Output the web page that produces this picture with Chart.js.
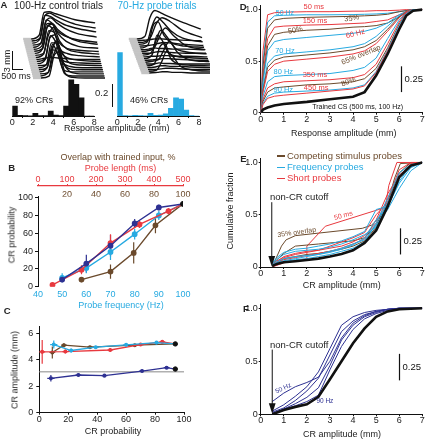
<!DOCTYPE html>
<html>
<head>
<meta charset="utf-8">
<script src="https://cdn.jsdelivr.net/npm/chart.js@4.4.1/dist/chart.umd.min.js"></script>
<style>
html, body { margin: 0; padding: 0; background: #fff; }
#fig { position: relative; width: 426px; height: 440px; overflow: hidden; font-family: "Liberation Sans", Arial, sans-serif; color: #222; }
.t { position: absolute; white-space: nowrap; line-height: 1; }
.ln { position: absolute; }
</style>
</head>
<body>
<div id="fig"></div>
<script>
const CYAN = '#27aae1', RED = '#e8393f', BROWN = '#6b4a2c', NAVY = '#2e3192', BLACK = '#111', GRAY = '#b0b0b0';
const FONT = '"Liberation Sans", Arial, sans-serif';

// ---- A: eyelid traces (mm) at fixed times (ms), one row per trial, bottom trial first
const traceT = [0, 400, 800, 1050, 1300, 1600, 2000, 2600, 3600];
const ctrlTraces = [
  [0, 0, 0.3, 3.6, 4.2, 0.8, 0.1, 0, 0],
  [0, 0, 0.6, 4.2, 3.4, 0.4, 0, 0, 0],
  [0, 0, 0.2, 2.8, 4.4, 1.6, 0.2, 0, 0],
  [0, 0, 0.8, 4.4, 3.0, 0.3, 0, 0, 0],
  [0, 0, 0.3, 3.4, 4.5, 1.2, 0.1, 0, 0],
  [0, 0, 0.5, 4.0, 4.0, 0.9, 0.2, 0, 0],
  [0, 0, 0.1, 1.8, 4.0, 2.2, 0.4, 0.1, 0],
  [0, 0, 0.7, 4.5, 3.6, 0.7, 0.2, 0.1, 0],
  [0, 0, 0.4, 3.8, 4.3, 1.5, 0.5, 0.2, 0],
  [0, 0, 0.2, 0.3, 0.3, 0.2, 0.1, 0, 0],
  [0, 0, 0.6, 4.3, 4.1, 1.4, 0.6, 0.3, 0.1],
  [0, 0, 0.3, 3.2, 4.5, 2.4, 1.0, 0.5, 0.2],
  [0, 0, 0.8, 4.5, 3.9, 1.8, 0.8, 0.5, 0.3],
  [0, 0, 0.4, 3.9, 4.4, 2.8, 1.6, 0.8, 0.5],
  [0, 0, 0.5, 4.1, 4.2, 3.2, 2.2, 1.3, 0.8],
  [0, 0, 0.7, 4.4, 4.0, 2.6, 1.8, 1.2, 0.8],
  [0, 0, 0.3, 3.7, 4.4, 3.6, 2.7, 1.9, 1.3],
  [0, 0, 0.7, 4.5, 4.3, 3.7, 3.0, 2.4, 1.8],
  [0, 0, 0.4, 4.0, 4.5, 4.0, 3.4, 2.7, 2.1],
  [0, 0, 0.6, 4.3, 4.4, 4.1, 3.7, 3.1, 2.6]
];
const probeTraces = [
  [0, 0, 0.1, 0.2, 0.2, 0.1, 0.1, 0, 0],
  [0, 0, 0.2, 1.5, 3.2, 2.4, 0.8, 0.2, 0],
  [0, 0, 0, 0.1, 0.2, 0.2, 0.1, 0, 0],
  [0, 0, 0.1, 0.3, 0.3, 0.2, 0.2, 0.1, 0],
  [0, 0, 0.4, 3.0, 3.6, 1.2, 0.3, 0.1, 0],
  [0, 0, 0, 0.2, 0.1, 0.1, 0, 0, 0],
  [0, 0, 0.2, 0.4, 1.8, 3.4, 1.6, 0.4, 0.1],
  [0, 0, 0.1, 0.2, 0.3, 0.3, 0.2, 0.1, 0],
  [0, 0, 0.6, 3.8, 3.0, 1.0, 0.4, 0.2, 0],
  [0, 0, 0.1, 0.1, 0.2, 0.2, 0.1, 0.1, 0],
  [0, 0, 0.3, 2.2, 4.0, 3.0, 1.2, 0.5, 0.2],
  [0, 0, 0, 0.2, 0.3, 0.2, 0.1, 0, 0],
  [0, 0, 0.2, 0.6, 2.4, 3.8, 2.6, 1.0, 0.3],
  [0, 0, 0.1, 0.3, 0.2, 0.2, 0.1, 0.1, 0],
  [0, 0, 0.5, 3.6, 4.2, 2.0, 0.8, 0.3, 0.1],
  [0, 0, 0.1, 0.2, 0.4, 0.6, 0.5, 0.3, 0.1],
  [0, 0, 0.3, 2.8, 4.4, 3.6, 2.2, 1.0, 0.4],
  [0, 0, 0.2, 1.0, 3.0, 4.0, 3.4, 2.0, 0.8],
  [0, 0, 0.1, 0.2, 0.3, 0.3, 0.2, 0.1, 0],
  [0, 0, 0.4, 3.4, 4.6, 4.2, 3.6, 2.8, 1.6]
];

// ---- A: response amplitude histograms (fraction of trials, 0.5 mm bins)
const binMid = [0.25, 0.75, 1.25, 1.75, 2.25, 2.75, 3.25, 3.75, 4.25, 4.75, 5.25, 5.75, 6.25, 6.75, 7.25, 7.75];
const ctrlHist = [0.088, 0.006, 0.004, 0.002, 0.024, 0.004, 0.003, 0.044, 0.008, 0.004, 0.088, 0.32, 0.28, 0.16, 0, 0];
const probeHist = [0.56, 0.004, 0.002, 0.006, 0.004, 0.002, 0.024, 0.006, 0.008, 0.02, 0.068, 0.16, 0.15, 0.053, 0.004, 0];

// ---- B: CR probability (%) vs probe parameter
const bFreq = [50, 60, 70, 80, 90];
const bFreqCR = [10, 21, 39, 59, 80];
const bFreqErr = [5, 6, 9, 6, 5];
const bNavyCR = [8, 26, 46, 71, 89];
const bNavyErr = [3, 10, 12, 5, 3];
const bLen = [50, 150, 250, 350, 450];
const bLenCR = [2, 19, 49, 70, 85];
const bLenErr = [1, 5, 10, 4, 3];
const bOv = [30, 50, 66, 81];
const bOvCR = [8, 17, 38, 69];
const bOvErr = [3, 8, 12, 9];
const trainedFreq = 100, trainedLen = 500, trainedOv = 100, trainedCR = 93;

// ---- C: CR amplitude (mm) vs CR probability (%)
const cNavyP = [8, 27, 45, 71, 88], cNavyAmp = [2.6, 2.85, 2.8, 3.15, 3.4];
const cNavyErr = [0.25, 0.08, 0.08, 0.06, 0.06], cNavyPErr = [2.5, 2, 2, 2, 2];
const cCyanP = [10, 22, 39, 60, 81], cCyanAmp = [5.15, 4.7, 4.95, 5.13, 5.3];
const cCyanErr = [0.3, 0.15, 0.1, 0.08, 0.08], cCyanPErr = [2.5, 2, 2, 2, 2];
const cRedP = [2, 18, 49, 70, 85], cRedAmp = [4.6, 4.62, 4.74, 5.15, 5.35];
const cRedErr = [0.9, 0.15, 0.12, 0.08, 0.08], cRedPErr = [2, 2, 2, 2, 2];
const cBrownP = [9, 17, 35, 66], cBrownAmp = [4.55, 5.1, 4.95, 5.1];
const cBrownErr = [0.45, 0.15, 0.1, 0.08], cBrownPErr = [2, 2, 2, 2];
const trainedP = 94, trainedAmp = 5.2, trainedNavyAmp = 3.3;
const cRefP = [0, 100], cRefAmp = [3.1, 3.1];

// ---- D: cumulative fraction vs response amplitude (mm)
const dX = [0, 0.1, 0.3, 0.6, 1, 2, 3, 4, 4.5, 5, 5.5, 6, 6.3, 6.6, 7];
const dTrained = [0, 0.03, 0.05, 0.07, 0.085, 0.105, 0.13, 0.155, 0.2, 0.36, 0.57, 0.81, 0.94, 0.99, 1];
const dLen450 = [0, 0.08, 0.14, 0.16, 0.17, 0.19, 0.21, 0.23, 0.26, 0.39, 0.6, 0.83, 0.95, 0.99, 1];
const dHz90 = [0, 0.09, 0.16, 0.19, 0.2, 0.21, 0.22, 0.24, 0.27, 0.4, 0.61, 0.85, 0.96, 1, 1];
const dOv80 = [0, 0.11, 0.2, 0.24, 0.25, 0.27, 0.28, 0.3, 0.33, 0.43, 0.63, 0.86, 0.96, 1, 1];
const dLen350 = [0, 0.13, 0.24, 0.28, 0.3, 0.31, 0.32, 0.34, 0.37, 0.47, 0.67, 0.88, 0.97, 1, 1];
const dHz80 = [0, 0.16, 0.3, 0.35, 0.36, 0.37, 0.38, 0.41, 0.44, 0.53, 0.72, 0.9, 0.97, 1, 1];
const dLen250 = [0, 0.2, 0.4, 0.47, 0.5, 0.52, 0.54, 0.57, 0.6, 0.67, 0.79, 0.92, 0.98, 1, 1];
const dOv65 = [0, 0.22, 0.44, 0.51, 0.54, 0.56, 0.58, 0.61, 0.64, 0.7, 0.81, 0.93, 0.98, 1, 1];
const dHz70 = [0, 0.25, 0.48, 0.55, 0.57, 0.59, 0.61, 0.64, 0.67, 0.74, 0.84, 0.94, 0.98, 1, 1];
const dHz60 = [0, 0.3, 0.6, 0.69, 0.71, 0.73, 0.75, 0.77, 0.79, 0.82, 0.87, 0.95, 0.98, 1, 1];
const dOv50 = [0, 0.33, 0.65, 0.76, 0.78, 0.8, 0.81, 0.83, 0.835, 0.845, 0.87, 0.93, 0.97, 1, 1];
const dLen150 = [0, 0.38, 0.72, 0.83, 0.84, 0.85, 0.855, 0.865, 0.87, 0.885, 0.9, 0.95, 0.98, 1, 1];
const dOv35 = [0, 0.45, 0.82, 0.9, 0.915, 0.925, 0.93, 0.935, 0.94, 0.945, 0.955, 0.98, 0.99, 1, 1];
const dHz50 = [0, 0.5, 0.88, 0.94, 0.945, 0.95, 0.95, 0.952, 0.955, 0.958, 0.965, 0.98, 0.99, 1, 1];
const dLen50 = [0, 0.6, 0.95, 0.97, 0.975, 0.98, 0.98, 0.985, 0.985, 0.99, 0.99, 0.995, 1, 1, 1];

// ---- E: cumulative fraction vs CR amplitude (mm), CRs only
const eX = [0.5, 0.7, 1, 1.5, 2, 2.5, 3, 3.5, 4, 4.5, 5, 5.5, 6, 6.5, 7];
const eTrained = [0.01, 0.03, 0.045, 0.055, 0.067, 0.08, 0.1, 0.125, 0.16, 0.23, 0.35, 0.58, 0.86, 0.97, 1];
const eFreq = [
  [0.02, 0.05, 0.08, 0.1, 0.11, 0.12, 0.14, 0.17, 0.21, 0.28, 0.45, 0.58, 0.8, 0.95, 1],
  [0.03, 0.07, 0.12, 0.15, 0.16, 0.17, 0.19, 0.22, 0.26, 0.31, 0.38, 0.62, 0.85, 0.96, 1],
  [0.02, 0.04, 0.06, 0.08, 0.1, 0.12, 0.15, 0.18, 0.22, 0.26, 0.4, 0.55, 0.75, 0.92, 1],
  [0.04, 0.09, 0.14, 0.17, 0.18, 0.2, 0.22, 0.25, 0.29, 0.34, 0.55, 0.58, 0.82, 0.97, 1],
  [0.01, 0.03, 0.05, 0.07, 0.08, 0.1, 0.12, 0.15, 0.18, 0.24, 0.42, 0.66, 0.9, 0.98, 1]
];
const eLen = [
  [0.02, 0.05, 0.1, 0.13, 0.15, 0.16, 0.18, 0.2, 0.24, 0.3, 0.42, 0.65, 0.93, 1, 1],
  [0.01, 0.04, 0.07, 0.09, 0.11, 0.13, 0.15, 0.18, 0.22, 0.27, 0.45, 0.7, 0.88, 0.97, 1],
  [0.03, 0.06, 0.09, 0.12, 0.14, 0.16, 0.2, 0.24, 0.28, 0.33, 0.5, 0.62, 0.86, 0.99, 1]
];
const eOv = [
  [0.02, 0.07, 0.13, 0.2, 0.21, 0.22, 0.23, 0.24, 0.25, 0.28, 0.4, 0.62, 0.9, 1, 1],
  [0.01, 0.04, 0.08, 0.1, 0.12, 0.13, 0.15, 0.17, 0.2, 0.25, 0.38, 0.6, 0.86, 0.98, 1]
];
const eLen50X = [0.5, 1, 2, 2, 2.8, 5.4, 5.55, 5.9, 7];
const eLen50Y = [0, 0.04, 0.08, 0.2, 0.39, 0.57, 0.78, 1, 1];
const eOv35X = [0.5, 0.6, 0.9, 1.1, 1.5, 4.4, 4.8, 5.4, 5.8, 6.05, 7];
const eOv35Y = [0, 0.05, 0.2, 0.26, 0.3, 0.37, 0.4, 0.53, 0.85, 0.99, 1];

// ---- F: cumulative fraction vs CR amplitude (mm), frequency probes of second group
const fX = [0.5, 1, 1.5, 2, 2.5, 3, 3.5, 4, 4.5, 5, 5.5, 6, 7];
const fTrained = [0, 0.04, 0.07, 0.095, 0.165, 0.33, 0.5, 0.67, 0.81, 0.92, 0.97, 0.99, 1];
const fHz = [
  [0.12, 0.2, 0.26, 0.3, 0.35, 0.5, 0.72, 0.86, 0.93, 0.97, 0.99, 1, 1],
  [0.03, 0.09, 0.17, 0.26, 0.4, 0.62, 0.84, 0.92, 0.96, 0.98, 0.99, 1, 1],
  [0.02, 0.06, 0.13, 0.22, 0.34, 0.56, 0.78, 0.88, 0.94, 0.97, 0.99, 1, 1],
  [0.01, 0.05, 0.1, 0.16, 0.25, 0.46, 0.7, 0.84, 0.92, 0.96, 0.99, 1, 1],
  [0, 0.05, 0.08, 0.12, 0.18, 0.42, 0.64, 0.8, 0.9, 0.95, 0.98, 1, 1]
];

Chart.defaults.font.family = FONT;
Chart.defaults.font.size = 9;
Chart.defaults.font.lineHeight = 1;
Chart.defaults.color = '#222';

const fig = document.getElementById('fig');

function label(s, x, y, o) {
  o = o || {};
  const d = document.createElement('div');
  d.className = 't';
  d.textContent = s;
  d.style.left = x + 'px';
  d.style.top = y + 'px';
  d.style.fontSize = (o.size || 9) + 'px';
  d.style.color = o.color || '#222';
  if (o.bold) d.style.fontWeight = 'bold';
  const tx = o.align === 'left' ? '0' : '-50%';
  d.style.transform = 'translate(' + tx + ',-50%)' + (o.rot ? ' rotate(' + o.rot + 'deg)' : '');
  fig.appendChild(d);
}

function rule(x, y, w, h, color) {
  const d = document.createElement('div');
  d.className = 'ln';
  d.style.cssText += 'left:' + x + 'px;top:' + y + 'px;width:' + w + 'px;height:' + h + 'px;background:' + color;
  fig.appendChild(d);
}

function mk(box, cfg) {
  const c = document.createElement('canvas');
  c.width = box[2];
  c.height = box[3];
  c.style.cssText = 'position:absolute;left:' + box[0] + 'px;top:' + box[1] + 'px;width:' + box[2] + 'px;height:' + box[3] + 'px';
  fig.appendChild(c);
  return new Chart(c, cfg);
}

function base(pad, scales, plugins) {
  return {
    responsive: false, animation: false, events: [],
    layout: { padding: pad },
    plugins: Object.assign({ legend: { display: false }, tooltip: { enabled: false } }, plugins || {}),
    scales: scales
  };
}

function pts(xs, ys) { return xs.map((x, i) => ({ x: x, y: ys[i] })); }

function line(xs, ys, color, w, extra) {
  return Object.assign({
    data: pts(xs, ys), borderColor: color, backgroundColor: color,
    borderWidth: w, pointRadius: 0, tension: 0, fill: false
  }, extra || {});
}

// error bars, drawn under the points
const errorBars = {
  id: 'errorBars',
  beforeDatasetsDraw(chart) {
    const ctx = chart.ctx;
    chart.data.datasets.forEach((ds, i) => {
      if (!ds.yErr && !ds.xErr) return;
      const meta = chart.getDatasetMeta(i);
      const sx = chart.scales[meta.xAxisID], sy = chart.scales[meta.yAxisID];
      ctx.save();
      ctx.strokeStyle = ds.borderColor;
      ctx.lineWidth = 1.2;
      ctx.beginPath();
      ds.data.forEach((p, j) => {
        const ey = ds.yErr ? (ds.yErr[j] || 0) : 0;
        const ex = ds.xErr ? (ds.xErr[j] || 0) : 0;
        const px = sx.getPixelForValue(p.x), py = sy.getPixelForValue(p.y);
        if (ey) { ctx.moveTo(px, sy.getPixelForValue(p.y - ey)); ctx.lineTo(px, sy.getPixelForValue(p.y + ey)); }
        if (ex) { ctx.moveTo(sx.getPixelForValue(p.x - ex), py); ctx.lineTo(sx.getPixelForValue(p.x + ex), py); }
      });
      ctx.stroke();
      ctx.restore();
    });
  }
};

// in-plot labels, scale bar and cutoff arrow
const notes = {
  id: 'notes',
  afterDatasetsDraw(chart, args, o) {
    const ctx = chart.ctx, sx = chart.scales.x, sy = chart.scales.y;
    ctx.save();
    (o.texts || []).forEach(n => {
      ctx.save();
      ctx.translate(sx.getPixelForValue(n.x), sy.getPixelForValue(n.y));
      ctx.rotate((n.rot || 0) * Math.PI / 180);
      ctx.font = (n.size || 7) + 'px ' + FONT;
      ctx.fillStyle = n.color || BLACK;
      ctx.textAlign = 'center';
      ctx.textBaseline = 'middle';
      ctx.fillText(n.text, 0, 0);
      ctx.restore();
    });
    if (o.bar) {
      const x = Math.round(sx.getPixelForValue(o.bar.x)) + 0.5;
      const y0 = sy.getPixelForValue(o.bar.y), y1 = sy.getPixelForValue(o.bar.y + o.bar.len);
      ctx.strokeStyle = BLACK;
      ctx.lineWidth = 1.2;
      ctx.beginPath(); ctx.moveTo(x, y0); ctx.lineTo(x, y1); ctx.stroke();
      ctx.font = '9.5px ' + FONT;
      ctx.fillStyle = BLACK;
      ctx.textAlign = 'left';
      ctx.textBaseline = 'middle';
      ctx.fillText(o.bar.text, x + 3, (y0 + y1) / 2);
    }
    if (o.arrow) {
      const x = sx.getPixelForValue(o.arrow.x), yt = sy.getPixelForValue(o.arrow.y), yb = sy.getPixelForValue(0);
      ctx.strokeStyle = BLACK;
      ctx.fillStyle = BLACK;
      ctx.lineWidth = 1;
      ctx.beginPath(); ctx.moveTo(x, yt); ctx.lineTo(x, yb - 9); ctx.stroke();
      ctx.beginPath(); ctx.moveTo(x - 3.4, yb - 11); ctx.lineTo(x + 3.4, yb - 11); ctx.lineTo(x, yb - 0.5); ctx.closePath(); ctx.fill();
    }
    ctx.restore();
  }
};

// ================= A =================
function traceChart(box, traces, xr, yr, dx, dy) {
  const datasets = traces.map((amp, k) => ({
    data: traceT.map((t, j) => ({ x: t + k * dx, y: amp[j] + k * dy })),
    borderColor: BLACK, borderWidth: 1.4, pointRadius: 0, cubicInterpolationMode: 'monotone',
    segment: {
      borderColor: c => c.p0DataIndex === 0 ? '#c4c4c4' : undefined,
      borderWidth: c => c.p0DataIndex === 0 ? 2.4 : undefined
    }
  }));
  mk(box, { type: 'line', data: { datasets: datasets }, options: base(0, {
    x: { type: 'linear', display: false, min: xr[0], max: xr[1] },
    y: { type: 'linear', display: false, min: yr[0], max: yr[1] }
  }) });
}
traceChart([20, 6, 90, 78], ctrlTraces, [-650, 3850], [-0.97, 11.61], -26, 0.331);
traceChart([115, 6, 95, 78], probeTraces, [-1315, 3435], [-1.77, 10.81], -33, 0.289);

function histChart(box, pad, vals, color) {
  mk(box, { type: 'bar', data: { datasets: [{
    data: pts(binMid, vals), backgroundColor: color, borderWidth: 0,
    barPercentage: 1, categoryPercentage: 1
  }] }, options: base(pad, {
    x: { type: 'linear', min: 0, max: 8, offset: false, afterFit: s => { s.height = 12; },
      ticks: { stepSize: 2, padding: 0, color: '#222' },
      grid: { drawOnChartArea: false, tickLength: 2, color: BLACK }, border: { color: BLACK } },
    y: { type: 'linear', display: false, min: 0, max: 0.6 }
  }) });
}
histChart([2, 44, 105, 88], { left: 10.3, top: 4, right: 12.7, bottom: 4 }, ctrlHist, BLACK);
histChart([107, 44, 106, 88], { left: 10.3, top: 4, right: 14, bottom: 4 }, probeHist, CYAN);

label('A', 4, 5, { bold: true, size: 9.5 });
label('100-Hz control trials', 58.5, 6, { size: 10 });
label('70-Hz probe trials', 157, 6, { size: 10, color: CYAN });
rule(12, 50.7, 1, 19, BLACK);
rule(12, 69, 11.3, 1, BLACK);
label('3 mm', 7, 60.5, { rot: -90 });
label('500 ms', 16, 76);
label('92% CRs', 34, 100);
label('46% CRs', 149, 100);
rule(112.2, 84, 1.2, 22.7, BLACK);
label('0.2', 101.7, 93.3, { size: 9.5 });
label('Response amplitude (mm)', 116.7, 127.5);

// ================= B =================
function withTrained(xs, ys, tx) { return pts(xs.concat([tx]), ys.concat([trainedCR])); }
const bPoint = n => Array(n).fill(2.2).concat([0]);
mk([0, 160, 200, 145], {
  type: 'line',
  data: { datasets: [
    { data: [{ x: trainedFreq, y: trainedCR }], borderColor: BLACK, backgroundColor: BLACK, pointRadius: 2.5, showLine: false, order: 0 },
    { data: withTrained(bFreq, bNavyCR, trainedFreq), yErr: bNavyErr, borderColor: NAVY, backgroundColor: NAVY, borderWidth: 1.4, pointRadius: bPoint(5), order: 1 },
    { data: withTrained(bLen, bLenCR, trainedLen), yErr: bLenErr, xAxisID: 'ms', borderColor: RED, backgroundColor: RED, borderWidth: 1.4, pointRadius: bPoint(5), order: 2 },
    { data: withTrained(bFreq, bFreqCR, trainedFreq), yErr: bFreqErr, borderColor: CYAN, backgroundColor: CYAN, borderWidth: 1.4, pointRadius: bPoint(5), order: 3 },
    { data: withTrained(bOv, bOvCR, trainedOv), yErr: bOvErr, xAxisID: 'ov', borderColor: BROWN, backgroundColor: BROWN, borderWidth: 1.4, pointRadius: bPoint(4), order: 4 }
  ] },
  options: base({ left: 15, top: 12, right: 17, bottom: 6.3 }, {
    x: { type: 'linear', position: 'bottom', min: 40, max: 100, afterFit: s => { s.height = 12; },
      ticks: { stepSize: 10, color: CYAN, padding: 3 },
      grid: { drawOnChartArea: false, drawTicks: false }, border: { display: false } },
    ms: { type: 'linear', axis: 'x', position: 'top', min: 0, max: 500, weight: 2, afterFit: s => { s.height = 14; },
      ticks: { stepSize: 100, color: RED, padding: 0 },
      grid: { drawOnChartArea: false, tickLength: 2, color: RED }, border: { color: RED, width: 1.2 } },
    ov: { type: 'linear', axis: 'x', position: 'top', min: 0, max: 100, weight: 1, afterFit: s => { s.height = 10.8; },
      ticks: { stepSize: 20, color: BROWN, padding: -2, callback: v => v === 0 ? '' : v },
      grid: { display: false, drawTicks: false }, border: { display: false } },
    y: { type: 'linear', min: 0, max: 101, afterFit: s => { s.width = 23; },
      ticks: { stepSize: 20, includeBounds: false, padding: 2, color: '#222' },
      grid: { drawOnChartArea: false, tickLength: 3, color: BLACK }, border: { color: BLACK } }
  }),
  plugins: [errorBars]
});
label('B', 11.7, 168.3, { bold: true, size: 9.5 });
label('Overlap with trained input, %', 118, 156.7, { color: BROWN });
label('Probe length (ms)', 120.5, 168.3, { color: RED });
label('CR probability', 12, 235, { rot: -90 });
label('Probe frequency (Hz)', 121, 305, { color: CYAN });

// ================= C =================
function cSeries(xs, ys, ex, ey, ty, color, order) {
  return { data: pts(xs.concat([trainedP]), ys.concat([ty])), xErr: ex, yErr: ey,
    borderColor: color, backgroundColor: color, borderWidth: 1.3, pointRadius: Array(xs.length).fill(1.4).concat([0]), order: order };
}
mk([0, 318, 200, 122], {
  type: 'line',
  data: { datasets: [
    { data: [{ x: trainedP, y: trainedAmp }, { x: trainedP, y: trainedNavyAmp }], borderColor: BLACK, backgroundColor: BLACK, pointRadius: 2.2, showLine: false, order: 0 },
    cSeries(cNavyP, cNavyAmp, cNavyPErr, cNavyErr, trainedNavyAmp, NAVY, 1),
    cSeries(cCyanP, cCyanAmp, cCyanPErr, cCyanErr, trainedAmp, CYAN, 2),
    cSeries(cRedP, cRedAmp, cRedPErr, cRedErr, trainedAmp, RED, 3),
    cSeries(cBrownP, cBrownAmp, cBrownPErr, cBrownErr, trainedAmp, BROWN, 4),
    line(cRefP, cRefAmp, GRAY, 1.5, { order: 5 })
  ] },
  options: base({ left: 15, top: 8.7, right: 16, bottom: 15.3 }, {
    x: { type: 'linear', min: 0, max: 100, afterFit: s => { s.height = 12; },
      ticks: { stepSize: 20, padding: 0, color: '#222' },
      grid: { drawOnChartArea: false, tickLength: 2, color: BLACK }, border: { color: BLACK } },
    y: { type: 'linear', min: 0, max: 6.5, afterFit: s => { s.width = 24.3; },
      ticks: { stepSize: 2, includeBounds: false, padding: 3, color: '#222' },
      grid: { drawOnChartArea: false, tickLength: 3, color: BLACK }, border: { color: BLACK } }
  }),
  plugins: [errorBars]
});
label('C', 7.3, 310.7, { bold: true, size: 9.5 });
label('CR amplitude (mm)', 15, 370, { rot: -90 });
label('CR probability', 113, 430.7);

// ================= D, E, F =================
function cdfScales() {
  return {
    x: { type: 'linear', min: 0, max: 7, afterFit: s => { s.height = 12; },
      ticks: { stepSize: 1, padding: 0, color: '#222' },
      grid: { drawOnChartArea: false, tickLength: 2, color: BLACK }, border: { color: BLACK } },
    y: { type: 'linear', min: 0, max: 1.04, afterFit: s => { s.width = 20; },
      ticks: { stepSize: 0.5, includeBounds: false, padding: 1, color: '#222' },
      grid: { drawOnChartArea: false, tickLength: 2, color: BLACK }, border: { color: BLACK } }
  };
}

mk([225, 0, 201, 130], {
  type: 'line',
  data: { datasets: [
    line(dX, dTrained, BLACK, 2.6),
    line(dX, dLen450, RED, 1), line(dX, dHz90, CYAN, 1), line(dX, dOv80, BROWN, 1),
    line(dX, dLen350, RED, 1), line(dX, dHz80, CYAN, 1), line(dX, dLen250, RED, 1),
    line(dX, dOv65, BROWN, 1), line(dX, dHz70, CYAN, 1), line(dX, dHz60, CYAN, 1),
    line(dX, dOv50, BROWN, 1), line(dX, dLen150, RED, 1), line(dX, dOv35, BROWN, 1),
    line(dX, dHz50, CYAN, 1), line(dX, dLen50, RED, 1)
  ] },
  options: base({ left: 15.7, top: 4.9, right: 3.7, bottom: 5.3 }, cdfScales(), {
    notes: {
      texts: [
        { text: '50 ms', x: 2.3, y: 1.03, color: RED, size: 7.5 },
        { text: '50 Hz', x: 1.05, y: 0.968, color: CYAN, size: 7 },
        { text: '35%', x: 3.94, y: 0.915, color: BROWN, size: 7.5, rot: -8 },
        { text: '150 ms', x: 2.35, y: 0.894, color: RED, size: 7.5 },
        { text: '50%', x: 1.5, y: 0.8, color: BROWN, size: 7.5, rot: -12 },
        { text: '60 Hz', x: 4.1, y: 0.765, color: RED, size: 7.5, rot: -15 },
        { text: '70 Hz', x: 1.05, y: 0.6, color: CYAN, size: 7.5 },
        { text: '65% overlap', x: 4.35, y: 0.56, color: BROWN, size: 7.5, rot: -22 },
        { text: '80 Hz', x: 0.98, y: 0.395, color: CYAN, size: 7.5 },
        { text: '350 ms', x: 2.35, y: 0.363, color: RED, size: 7.5 },
        { text: '80%', x: 3.8, y: 0.3, color: BROWN, size: 7.5, rot: -22 },
        { text: '90 Hz', x: 0.98, y: 0.225, color: CYAN, size: 7.5 },
        { text: '450 ms', x: 2.4, y: 0.244, color: RED, size: 7.5 },
        { text: 'Trained CS (500 ms, 100 Hz)', x: 4.2, y: 0.05, color: BLACK, size: 7 }
      ],
      bar: { x: 6.06, y: 0.2, len: 0.25, text: '0.25' }
    }
  }),
  plugins: [notes]
});
label('D', 243.3, 6.7, { bold: true, size: 9.5 });
label('Response amplitude (mm)', 343.8, 133.3);

const eSets = [line(eX, eTrained, BLACK, 2.6)];
eFreq.forEach(ys => eSets.push(line(eX, ys, CYAN, 1)));
eLen.forEach(ys => eSets.push(line(eX, ys, RED, 1)));
eOv.forEach(ys => eSets.push(line(eX, ys, BROWN, 1)));
eSets.push(line(eLen50X, eLen50Y, RED, 1));
eSets.push(line(eOv35X, eOv35Y, BROWN, 1));
mk([225, 150, 201, 130], {
  type: 'line',
  data: { datasets: eSets },
  options: base({ left: 15.7, top: 8.3, right: 3.7, bottom: 1 }, cdfScales(), {
    notes: {
      texts: [
        { text: '50 ms', x: 3.58, y: 0.49, color: RED, size: 7, rot: -15 },
        { text: '35% overlap', x: 1.56, y: 0.33, color: BROWN, size: 7, rot: -8 }
      ],
      bar: { x: 6.03, y: 0.12, len: 0.25, text: '0.25' },
      arrow: { x: 0.48, y: 0.62 }
    }
  }),
  plugins: [notes]
});
label('E', 243.3, 159, { bold: true, size: 9.5 });
rule(276.7, 155.3, 8.5, 1.4, BROWN);
rule(276.7, 166.6, 8.5, 1.4, CYAN);
rule(276.7, 177.6, 8.5, 1.4, RED);
label('Competing stimulus probes', 287, 156, { align: 'left', size: 9.5, color: BROWN });
label('Frequency probes', 287, 167.3, { align: 'left', size: 9.5, color: CYAN });
label('Short probes', 287, 178.3, { align: 'left', size: 9.5, color: RED });
label('non-CR cutoff', 270, 197.3, { align: 'left', size: 9.5 });
label('Cumulative fraction', 230, 211, { rot: -90 });
label('CR amplitude (mm)', 341.7, 285);

const fSets = [line(fX, fTrained, BLACK, 2.6)];
fHz.forEach(ys => fSets.push(line(fX, ys, NAVY, 1)));
mk([225, 296, 201, 144], {
  type: 'line',
  data: { datasets: fSets },
  options: base({ left: 15.7, top: 8, right: 3.7, bottom: 13.7 }, cdfScales(), {
    notes: {
      texts: [
        { text: '50 Hz', x: 0.98, y: 0.245, color: NAVY, size: 6.5, rot: -25 },
        { text: '90 Hz', x: 2.78, y: 0.12, color: NAVY, size: 6.5 }
      ],
      bar: { x: 6.0, y: 0.32, len: 0.25, text: '0.25' },
      arrow: { x: 0.5, y: 0.61 }
    }
  }),
  plugins: [notes]
});
label('F', 246, 308.8, { bold: true, size: 9.5 });
label('non-CR cutoff', 270, 345, { align: 'left', size: 9.5 });
label('CR amplitude (mm)', 342, 434);
</script>
</body>
</html>
